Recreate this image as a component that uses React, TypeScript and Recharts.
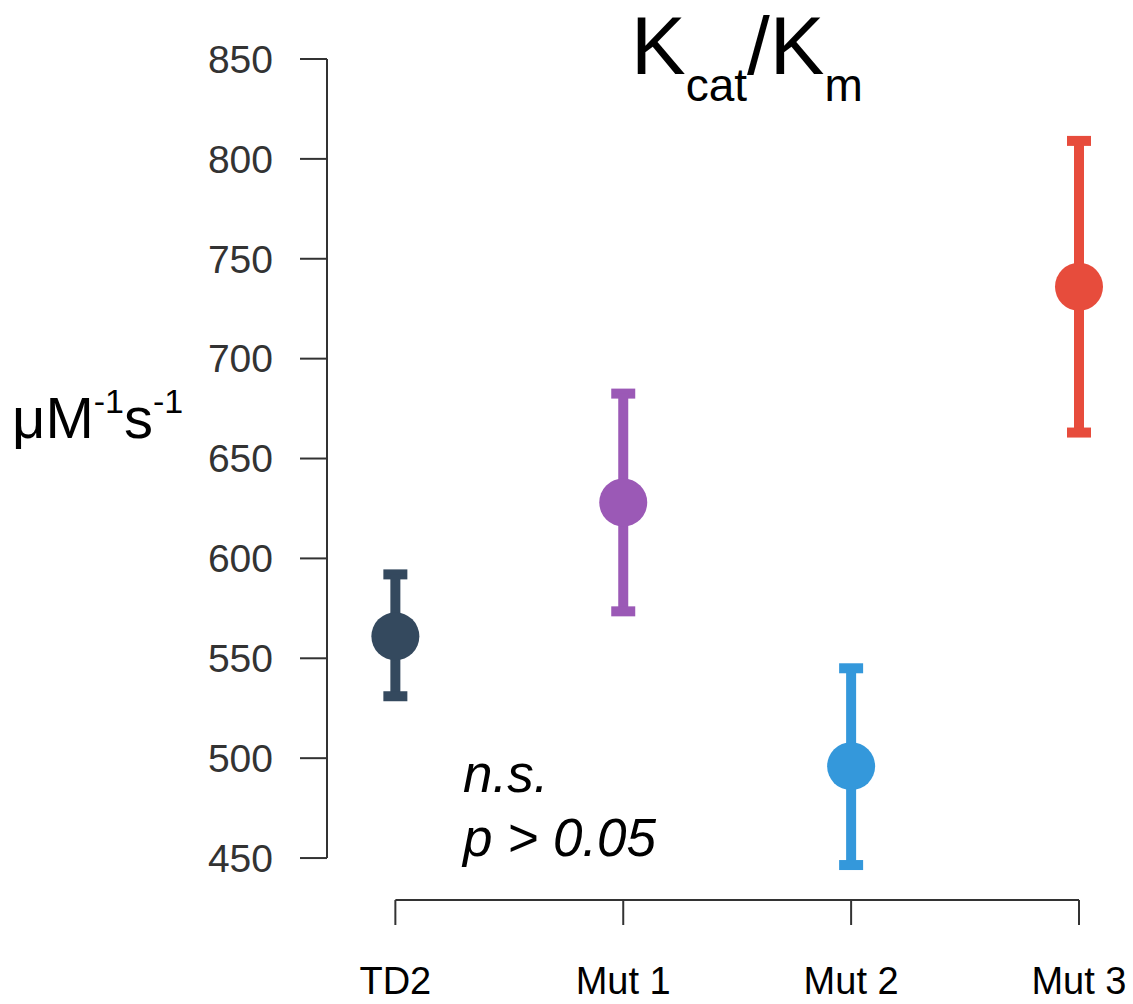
import { ScatterChart, Scatter, XAxis, YAxis, ErrorBar, ReferenceLine } from "recharts";

const categories = ["TD2", "Mut 1", "Mut 2", "Mut 3"];
const means = [561, 628, 496, 736];
const lows = [531, 573.5, 446.5, 663];
const highs = [592, 682.5, 545, 809];
const colors = ["#34495e", "#9b59b6", "#3498db", "#e74c3c"];
const yTicks = [450, 500, 550, 600, 650, 700, 750, 800, 850];
const xTicks = [0, 1, 2, 3];

const FONT = '"Liberation Sans", Arial, sans-serif';
const INK = "#333333";
// domains pushed past the data so the axis lines sit offset from the marks
const xDomain = [-0.3, 3];
const yDomain = [429, 850];

export default function App() {
  return (
    <div style={{ position: "absolute", left: 0, top: 0, width: 1133, height: 1004, background: "#fff" }}>
      <ScatterChart width={1133} height={1004} margin={{ top: 59, right: 54, bottom: 24, left: 207 }}>
        <XAxis
          type="number"
          dataKey="x"
          domain={xDomain}
          ticks={xTicks}
          interval={0}
          tickFormatter={(v: number) => categories[v] ?? ""}
          axisLine={false}
          tickLine={{ stroke: INK, strokeWidth: 2 }}
          tickSize={25}
          tickMargin={42}
          height={80}
          tick={{ fill: "#000", fontSize: 38, fontFamily: FONT }}
        />
        <YAxis
          type="number"
          dataKey="y"
          domain={yDomain}
          ticks={yTicks}
          interval={0}
          axisLine={false}
          tickLine={{ stroke: INK, strokeWidth: 2 }}
          tickSize={27}
          tickMargin={27}
          width={120}
          tick={{ fill: INK, fontSize: 39, fontFamily: FONT }}
        />
        <ReferenceLine
          segment={[{ x: xDomain[0], y: yTicks[0] }, { x: xDomain[0], y: yTicks[yTicks.length - 1] }]}
          stroke={INK}
          strokeWidth={2}
          ifOverflow="visible"
        />
        <ReferenceLine
          segment={[{ x: xTicks[0], y: yDomain[0] }, { x: xTicks[xTicks.length - 1], y: yDomain[0] }]}
          stroke={INK}
          strokeWidth={2}
          ifOverflow="visible"
        />
        {categories.map((c, i) => (
          <Scatter
            key={c}
            name={c}
            data={[{ x: i, y: means[i], err: [means[i] - lows[i], highs[i] - means[i]] }]}
            fill={colors[i]}
            isAnimationActive={false}
            shape={(p: any) => <circle cx={p.cx} cy={p.cy} r={24} fill={colors[i]} />}
          >
            <ErrorBar dataKey="err" direction="y" width={12} strokeWidth={10} stroke={colors[i]} />
          </Scatter>
        ))}
      </ScatterChart>
      <svg width={1133} height={1004} style={{ position: "absolute", left: 0, top: 0, pointerEvents: "none" }}>
        <text x={631} y={74} fontSize={82} fontFamily={FONT} fill="#000">
          K<tspan fontSize={46} dy={27}>cat</tspan>
          <tspan fontSize={82} dy={-27}>/K</tspan>
          <tspan fontSize={46} dy={27}>m</tspan>
        </text>
        <text x={12} y={438} fontSize={58} fontFamily={FONT} fill="#000">
          μM<tspan fontSize={34} dy={-25}>-1</tspan>
          <tspan fontSize={58} dy={25}>s</tspan>
          <tspan fontSize={34} dy={-25}>-1</tspan>
        </text>
        <text x={463} y={792} fontSize={53} fontStyle="italic" fontFamily={FONT} fill="#000">
          n.s.
        </text>
        <text x={463} y={856} fontSize={53} fontStyle="italic" fontFamily={FONT} fill="#000">
          p &gt; 0.05
        </text>
      </svg>
    </div>
  );
}
